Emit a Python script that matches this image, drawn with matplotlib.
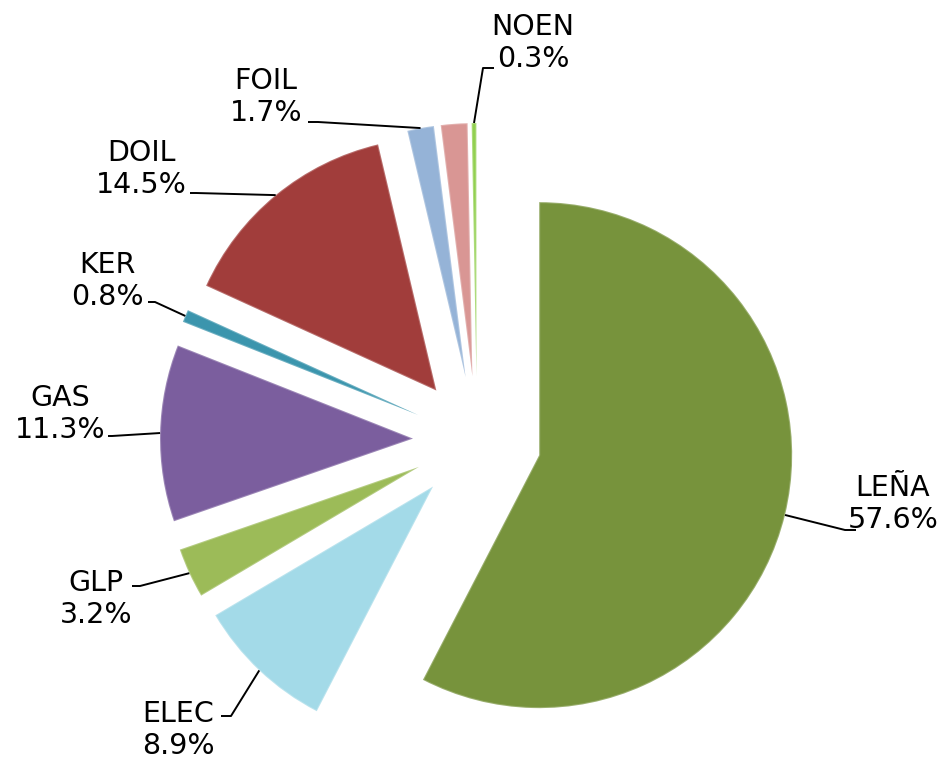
import numpy as np
import matplotlib
matplotlib.use("Agg")
import matplotlib.pyplot as plt

# energy shares (%) clockwise from 12 o'clock
fuels = ['LEÑA', 'ELEC', 'GLP', 'GAS', 'KER', 'DOIL', 'FOIL', '', 'NOEN']
shares = [57.6, 8.9, 3.2, 11.3, 0.8, 14.5, 1.7, 1.7, 0.3]
share_labels = ['57.6%', '8.9%', '3.2%', '11.3%', '0.8%', '14.5%', '1.7%', '', '0.3%']
colors = ['#77933C', '#A3DAE8', '#9CBB58', '#7B5E9E', '#3B95AD',
          '#A13D3B', '#95B3D7', '#D99694', '#92D050']

W, H = 942, 760


def px(x, y):
    # pixel coords (origin top-left) -> data coords
    return x, H - y


fig = plt.figure(figsize=(W / 100, H / 100), dpi=100)
ax = fig.add_axes([0, 0, 1, 1])

wedges, _ = ax.pie(shares, startangle=90, counterclock=False, radius=253,
                   center=px(477, 440), explode=[64] * len(shares),
                   colors=colors, wedgeprops=dict(linewidth=0))

# light rim to hint at the bevel of the original
for w in wedges:
    w.set_edgecolor(matplotlib.colors.to_rgba('white', 0.25))
    w.set_linewidth(1.5)

ax.set_xlim(0, W)
ax.set_ylim(0, H)
ax.set_aspect('equal')
ax.axis('off')

# label placement: text centre, elbow, end of leader (pixel coords)
layout = {
    'LEÑA': ((893, 504), (845, 530), (856, 530)),
    'ELEC': ((178, 730), (231, 716), (221, 716)),
    'GLP': ((96, 599), (140, 586), (132, 586)),
    'GAS': ((60, 414), (112, 436), (108, 436)),
    'KER': ((107, 281), (155, 302), (148, 302)),
    'DOIL': ((141, 169), (196, 193), (190, 193)),
    'FOIL': ((266, 97), (318, 122), (308, 122)),
    'NOEN': ((533, 43), (483, 68), (494, 68)),
}

for w, name, lab in zip(wedges, fuels, share_labels):
    if name not in layout:
        continue
    (tx, ty), elbow, end = layout[name]
    mid = np.deg2rad((w.theta1 + w.theta2) / 2)
    ax_ = w.center[0] + w.r * np.cos(mid)
    ay_ = w.center[1] + w.r * np.sin(mid)
    ex, ey = px(*elbow)
    nx, ny = px(*end)
    ax.plot([ax_, ex, nx], [ay_, ey, ny], color='black', lw=1.4,
            solid_capstyle='butt', zorder=3)
    ax.text(*px(tx, ty), f'{name}\n{lab}', ha='center', va='center',
            fontsize=20.5, family='DejaVu Sans', linespacing=1.15)

fig.savefig('out.png', dpi=100)
